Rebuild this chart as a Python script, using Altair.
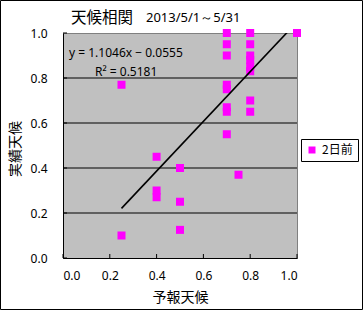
import altair as alt
import pandas as pd

# forecast (x) vs actual (y), "2日前" series
x_vals = [0.7, 0.7, 0.7, 0.7, 0.7, 0.7, 0.7, 0.7,
          0.8, 0.8, 0.8, 0.8, 0.8, 0.8, 0.8, 0.8,
          1.0, 0.75, 0.25, 0.4, 0.5, 0.4, 0.4, 0.5, 0.5, 0.25]
y_vals = [1.0, 0.95, 0.9, 0.77, 0.75, 0.67, 0.65, 0.55,
          1.0, 0.95, 0.9, 0.88, 0.85, 0.83, 0.70, 0.65,
          1.0, 0.37, 0.77, 0.45, 0.40, 0.30, 0.27, 0.25, 0.125, 0.10]
series_name = "2日前"

slope = 1.1046
intercept = -0.0555
r2 = 0.5181

tick_values = [0.0, 0.2, 0.4, 0.6, 0.8, 1.0]
grid_values = [0.2, 0.4, 0.6, 0.8]

title_main = "天候相関"
title_sub = "2013/5/1～5/31"
x_title = "予報天候"
y_title = "実績天候"

W, H = 234, 225
JP = "Noto Sans CJK JP"
LAT = "Noto Sans"

pts = pd.DataFrame({"x": x_vals, "y": y_vals, "s": [series_name] * len(x_vals)})
xmin, xmax = min(x_vals), max(x_vals)
trend = pd.DataFrame({"x": [xmin, xmax],
                      "y": [slope * xmin + intercept, slope * xmax + intercept]})

xs = alt.Scale(domain=[0, 1], nice=False, zero=False)
ys = alt.Scale(domain=[0, 1], nice=False, zero=False)

xaxis = alt.Axis(values=tick_values, format=".1f", ticks=False, tickSize=0,
                 labelPadding=12, grid=False, domainColor="black",
                 titleY=39, titleBaseline="middle")
yaxis = alt.Axis(values=tick_values, format=".1f", ticks=False, tickSize=0,
                 labelPadding=16, grid=False, domainColor="black",
                 titleX=-48, titleY=H / 2 + 3, titleBaseline="middle", titleAngle=270)


def X(f):
    return alt.X(f, scale=xs, title=x_title, axis=xaxis)


def Y(f):
    return alt.Y(f, scale=ys, title=y_title, axis=yaxis)


grid = alt.Chart(pd.DataFrame({"v": grid_values})).mark_rule(
    color="black", strokeWidth=1
).encode(y=Y("v:Q"), x=alt.value(0), x2=alt.value(W))

xt = alt.Chart(pd.DataFrame({"v": tick_values})).mark_rule(color="black").encode(
    x=X("v:Q"), y=alt.value(H), y2=alt.value(H - 4))
yt = alt.Chart(pd.DataFrame({"v": tick_values})).mark_rule(color="black").encode(
    y=Y("v:Q"), x=alt.value(0), x2=alt.value(4))

line = alt.Chart(trend).mark_line(color="black", strokeWidth=1.6, clip=True).encode(
    x=X("x:Q"), y=Y("y:Q"))

points = alt.Chart(pts).mark_square(size=64, opacity=1).encode(
    x=X("x:Q"),
    y=Y("y:Q"),
    color=alt.Color("s:N", scale=alt.Scale(range=["#FF00FF"]),
                    legend=alt.Legend(title=None, orient="none", legendX=238, legendY=106,
                                      strokeColor="black", fillColor="white", padding=5,
                                      symbolType="square", symbolSize=49,
                                      symbolStrokeWidth=0, labelFont=JP,
                                      labelFontSize=12, labelColor="black")),
)

one = pd.DataFrame({"a": [0]})
eq = alt.Chart(one).mark_text(align="left", baseline="middle", font=LAT, fontSize=12,
                              color="black").encode(
    x=alt.value(6), y=alt.value(20),
    text=alt.value(f"y = {slope:.4f}x − {abs(intercept):.4f}"))
rr = alt.Chart(one).mark_text(align="left", baseline="middle", font=LAT, fontSize=12,
                              color="black").encode(
    x=alt.value(32), y=alt.value(39), text=alt.value(f"R² = {r2:.4f}"))

t1 = alt.Chart(one).mark_text(align="left", baseline="middle", font=JP, fontSize=15.5,
                              color="black", clip=False).encode(
    x=alt.value(8), y=alt.value(-15), text=alt.value(title_main))
t2 = alt.Chart(one).mark_text(align="left", baseline="middle", font=LAT, fontSize=13,
                              color="black", clip=False).encode(
    x=alt.value(83), y=alt.value(-15), text=alt.value(title_sub))

border = alt.Chart(one).mark_rect(fill=None, stroke="black", strokeWidth=1, clip=False).encode(
    x=alt.value(-62.5), x2=alt.value(299.5), y=alt.value(-32.5), y2=alt.value(276.5))

chart = alt.layer(grid, points, line, xt, yt, eq, rr, t1, t2, border).properties(
    width=W, height=H,
    autosize=alt.AutoSizeParams(type="none"),
    padding={"left": 63, "top": 33, "right": 66, "bottom": 52},
    background="white",
).configure_view(fill="#C0C0C0", stroke="#808080", strokeWidth=1).configure_axis(
    labelFont=LAT, labelFontSize=12, labelColor="black",
    titleFont=JP, titleFontSize=14, titleFontWeight="normal", titleColor="black",
    domainWidth=1,
)

chart.save("out.html", embed_options={"renderer": "svg", "actions": False})
